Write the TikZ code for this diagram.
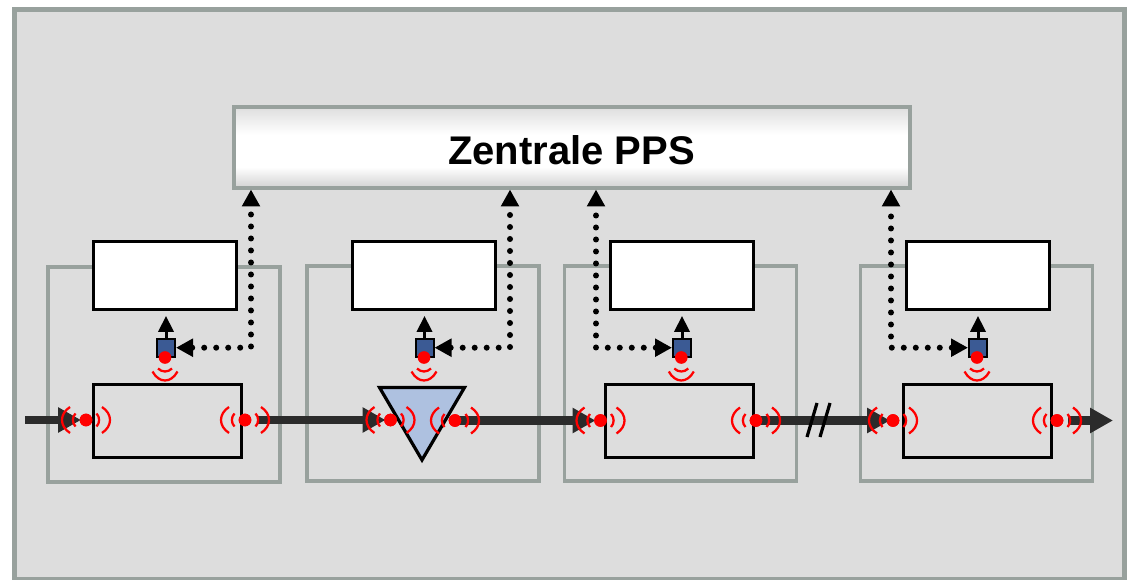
\documentclass[tikz,border=0pt]{standalone}
\usepackage{fontspec}
\setmainfont{Liberation Sans}
\usetikzlibrary{arrows.meta}
\definecolor{bgc}{HTML}{DDDDDD}
\definecolor{frm}{HTML}{98A19D}
\definecolor{flow}{HTML}{2B2B2B}
\definecolor{sens}{HTML}{3B5A94}
\definecolor{amp}{HTML}{AEC1E0}
\pgfdeclareverticalshading{zshade}{100bp}{
  color(0bp)=(black!18); color(25bp)=(black!18); color(38bp)=(white); color(58bp)=(white);
  color(75bp)=(black!13); color(100bp)=(black!13)}
\tikzset{
  x=0.75pt,y=-0.75pt,
  framebox/.style={draw=frm,line width=4.2pt,fill=bgc,minimum width=832.5pt,minimum height=427.5pt,inner sep=0pt},
  panel/.style={draw=frm,line width=2.4pt,minimum width=174pt,minimum height=161.25pt,inner sep=0pt},
  whitebox/.style={draw=black,line width=2.25pt,fill=white,minimum width=107.25pt,minimum height=51pt,inner sep=0pt},
  stationbox/.style={draw=black,line width=2.25pt,minimum width=111pt,minimum height=54.75pt,inner sep=0pt},
  sensor/.style={draw=black,line width=1.5pt,fill=sens,minimum size=13.5pt,inner sep=0pt},
  reddot/.style={circle,fill=red,minimum size=9.5pt,inner sep=0pt},
  central/.style={draw=frm,line width=2.6pt,minimum width=507pt,minimum height=60.75pt,inner sep=0pt,
    shade,shading=zshade},
  centraltext/.style={inner sep=0pt,font=\bfseries\fontsize{30}{32}\selectfont},
  flowline/.style={draw=flow,line width=6.2pt,-{Triangle[length=17.25pt,width=18pt]}},
  busdots/.style={draw=black,line width=4.5pt,line cap=round,dash pattern=on 0pt off 9pt,dash phase=8.8pt,
    {Triangle[length=12.75pt,width=13pt]}-{Triangle[length=12.75pt,width=13pt]}},
  upline/.style={draw=black,line width=2.25pt,-{Triangle[length=12pt,width=11.5pt]}},
  wave/.style={draw=red,line width=1.7pt},
  breakmark/.style={draw=black,line width=2.4pt},
  sidewaves/.pic={
    \draw[wave] (-16,-13) .. controls (-26.7,-6) and (-26.7,6) .. (-16,13);
    \draw[wave] (-10.5,-6.5) .. controls (-14,-3) and (-14,3) .. (-10.5,6.5);
    \draw[wave] (16,-13) .. controls (26.7,-6) and (26.7,6) .. (16,13);
    \draw[wave] (10.5,-6.5) .. controls (14,-3) and (14,3) .. (10.5,6.5);
  },
  downwaves/.pic={
    \draw[wave] (-12.5,14) .. controls (-6,26) and (6,26) .. (12.5,14);
    \draw[wave] (-7,11) .. controls (-3,15) and (3,15) .. (7,11);
  },
}
\begin{document}
\begin{tikzpicture}
\useasboundingbox (0,0) rectangle (1130,580);
\node[framebox] (frame) at (569.5,294.5) {};

% panels
\node[panel] (pa) at (164,374.5) {};
\node[panel] (pb) at (423,373.5) {};
\node[panel] (pc) at (680.5,373.5) {};
\node[panel] (pd) at (976.5,373.5) {};

% central unit
\node[central] (z) at (572,147.5) {};
\node[centraltext] (zt) at (571.5,150.5) {Zentrale PPS};

% top white boxes
\node[whitebox] (wa) at (165,276) {};
\node[whitebox] (wb) at (424,276) {};
\node[whitebox] (wc) at (681.7,276) {};
\node[whitebox] (wd) at (978,276) {};

% station boxes
\node[stationbox] (ba) at (167,421.2) {};
\node[stationbox] (bc) at (679.5,421.2) {};
\node[stationbox] (bd) at (977.3,421.2) {};
\draw[draw=black,line width=2.4pt,fill=amp] (379.5,387.5) -- (464.5,387.5) -- (422,460) -- cycle;

% port dots
\node[reddot] (pal) at (86,420) {};
\node[reddot] (par) at (245,420) {};
\node[reddot] (pbl) at (390.5,420) {};
\node[reddot] (pbr) at (455,420.5) {};
\node[reddot] (pcl) at (600.5,420.5) {};
\node[reddot] (pcr) at (756,420.5) {};
\node[reddot] (pdl) at (893,420.5) {};
\node[reddot] (pdr) at (1057,420.5) {};
\coordinate (in) at (25,420);
\coordinate (out) at (1113,420.5);

% flow
\draw[flowline,shorten >=3.75pt] (in) -- (pal.center);
\draw[flowline,shorten <=9.5pt,shorten >=3.75pt] (par.center) -- (pbl.center);
\draw[flowline,shorten >=3.75pt] (pbr.center) -- (pcl.center);
\draw[flowline,shorten <=4pt,shorten >=2.25pt] (pcr.center) -- (pdl.center);
\draw[flowline,shorten <=8pt] (pdr.center) -- (out);
\coordinate (sa1) at (807,437); \coordinate (sa2) at (817,403);
\coordinate (sb1) at (820,437); \coordinate (sb2) at (830,403);
\draw[breakmark] (sa1) -- (sa2);
\draw[breakmark] (sb1) -- (sb2);

% dots above flow
\foreach \n in {pal,par,pbl,pbr,pcl,pcr,pdl,pdr}{
  \node[reddot] at (\n) {};
  \pic at (\n) {sidewaves};
}

% sensors
\node[sensor] (sa) at (166,347.7) {};
\node[sensor] (sb) at (424.5,347.7) {};
\node[sensor] (sc) at (682,347.7) {};
\node[sensor] (sd) at (978,347.7) {};
\draw[upline] (sa.north) -- (sa.north |- 0,316);
\draw[upline] (sb.north) -- (sb.north |- 0,316);
\draw[upline] (sc.north) -- (sc.north |- 0,316);
\draw[upline] (sd.north) -- (sd.north |- 0,316);
\foreach \s/\n/\x in {sa/ra/165,sb/rb/424,sc/rc/681.3,sd/rd/977}{
  \node[reddot] (\n) at (\x,357.5) {};
  \pic at (\n) {downwaves};
}

% dotted links to the central unit
\coordinate (ta) at (251,189.5);
\coordinate (tb) at (510,189.5);
\coordinate (tc) at (596,189.5);
\coordinate (td) at (891,189.5);
\draw[busdots] (sa.east) -| (ta);
\draw[busdots] (sb.east) -| (tb);
\draw[busdots] (sc.west) -| (tc);
\draw[busdots] (sd.west) -| (td);
\end{tikzpicture}
\end{document}
